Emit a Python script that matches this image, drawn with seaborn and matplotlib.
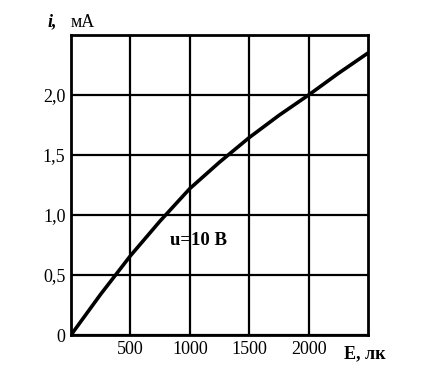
import matplotlib
matplotlib.use("Agg")
import matplotlib.pyplot as plt
import seaborn as sns
import pandas as pd

E_lux = [0, 250, 500, 750, 1000, 1250, 1500, 1750, 2000, 2250, 2500]
i_mA = [0, 0.34, 0.66, 0.95, 1.22, 1.44, 1.645, 1.83, 2.0, 2.18, 2.35]
x_ticks = [500, 1000, 1500, 2000]
y_ticks = [0, 0.5, 1.0, 1.5, 2.0]
y_tick_labels = ["0", "0,5", "1,0", "1,5", "2,0"]

sns.set_theme(style="white")
plt.rcParams['font.family'] = ['Liberation Serif', 'DejaVu Serif']
plt.rcParams['text.color'] = 'black'

df = pd.DataFrame({"E": E_lux, "i": i_mA})

fig = plt.figure(figsize=(4.29, 3.86), dpi=100)
ax = fig.add_axes([71/429, 1-335/386, (368-71)/429, (335-35)/386])
sns.lineplot(data=df, x="E", y="i", ax=ax, color="black", linewidth=2.6)

ax.set_xlim(0, 2500)
ax.set_ylim(0, 2.5)
ax.set_xticks(x_ticks)
ax.set_xticklabels([str(t) for t in x_ticks], fontsize=13)
ax.set_yticks(y_ticks)
ax.set_yticklabels(y_tick_labels, fontsize=13)
ax.tick_params(length=0, pad=4, colors="black")
ax.grid(True, color="black", linewidth=1.6)
for s in ax.spines.values():
    s.set_color("black")
    s.set_linewidth(2.0)
ax.set_xlabel("")
ax.set_ylabel("")

ax.text(-0.08, 1.015, "i,", transform=ax.transAxes, fontsize=13, style="italic",
        fontweight="bold", ha="left", va="bottom", color="black")
ax.text(0.0, 1.015, "мА", transform=ax.transAxes, fontsize=13, ha="left", va="bottom",
        color="black")
ax.text(0.92, -0.035, "E, лк", transform=ax.transAxes, fontsize=13, fontweight="bold",
        ha="left", va="top", color="black")
ax.text(0.335, 0.315, "u=10 B", transform=ax.transAxes, fontsize=13.5,
        fontweight="bold", ha="left", va="center", color="black")

fig.savefig("out.png", dpi=100)
